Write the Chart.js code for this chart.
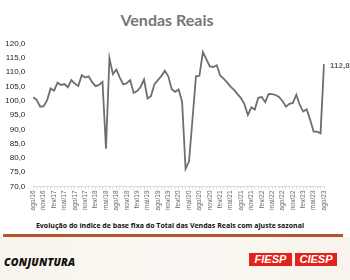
<!DOCTYPE html>
<html>
<head>
<meta charset="utf-8">
<script src="https://cdn.jsdelivr.net/npm/chart.js@4"></script>
<style>
  body { margin: 0; width: 350px; height: 280px; background: #fff; position: relative; overflow: hidden; font-family: "Liberation Sans", Arial, sans-serif; }
  #titulo { position: absolute; left: 0; width: 334px; top: 10px; text-align: center; font: bold 16px Lato, sans-serif; color: #777; }
  #grafico { position: absolute; left: 0; top: 0; width: 350px; height: 216px; }
  #subtitulo { position: absolute; left: 0; width: 340px; top: 221px; text-align: center; font: bold 7px "Open Sans", sans-serif; color: #111; }
  #linha { position: absolute; left: 3px; width: 340px; top: 234px; height: 3px; background: #b5562e; }
  #rodape { position: absolute; left: 0; top: 237px; width: 350px; height: 43px; background: linear-gradient(90deg, #f8f3ec, #fbf8f3 50%, #f8f3ec); }
  #conj { position: absolute; left: 4px; top: 255px; font: italic 900 10.5px "Open Sans", sans-serif; color: #111; letter-spacing: 0.2px; }
  .logo { position: absolute; top: 253px; height: 13px; background: #e3231b; color: #fff; font: italic bold 11px "Liberation Sans", Arial, sans-serif; line-height: 13px; text-align: center; }
</style>
</head>
<body>
<div id="titulo">Vendas Reais</div>
<canvas id="grafico" width="350" height="216"></canvas>
<div id="subtitulo">Evolução do índice de base fixa do Total das Vendas Reais com ajuste sazonal</div>
<div id="linha"></div>
<div id="rodape"></div>
<div id="conj">CONJUNTURA</div>
<div class="logo" style="left:249px;width:43px;">FIESP</div>
<div class="logo" style="left:295px;width:42px;">CIESP</div>
<script>
// Meses (ago/16 ate ago/23)
let nomesMeses = ["jan", "fev", "mar", "abr", "mai", "jun", "jul", "ago", "set", "out", "nov", "dez"];
let meses = [];
for (let i = 0; i < 85; i++) {
  let m = (7 + i) % 12;
  let a = 16 + Math.floor((7 + i) / 12);
  meses.push(nomesMeses[m] + "/" + a);
}

// Indice de vendas reais com ajuste sazonal
let vendas = [
  101.2, 100.2, 97.9, 98.1, 100.2, 104.3, 103.5, 106.3, 105.5, 105.8, 104.7, 107.2,
  106.0, 105.1, 108.9, 108.1, 108.5, 106.5, 105.1, 105.5, 106.6, 83.2, 114.9, 109.3,
  110.9, 108.1, 105.7, 106.1, 107.2, 102.7, 103.4, 104.8, 107.4, 100.8, 101.6, 105.8,
  107.2, 108.6, 110.5, 108.5, 104.0, 103.1, 103.9, 99.6, 76.2, 78.8, 93.5, 108.5,
  108.7, 117.0, 114.5, 112.0, 111.8, 112.4, 108.8, 107.7, 106.4, 104.9, 103.8, 102.3,
  100.9, 98.8, 95.0, 97.7, 96.9, 101.0, 101.3, 99.5, 102.4, 102.3, 102.0, 101.3,
  99.9, 97.9, 98.9, 99.2, 102.1, 98.5, 96.2, 97.0, 93.3, 89.2, 89.2, 88.6,
  112.8
];

let yMin = 70;
let yMax = 120;
let yPasso = 5;

function virgula(v, casas) {
  return v.toFixed(casas).replace(".", ",");
}

// rotulo do ultimo valor
const rotuloFinal = {
  id: "rotuloFinal",
  afterDatasetsDraw(chart) {
    let meta = chart.getDatasetMeta(0);
    let p = meta.data[meta.data.length - 1];
    let ctx = chart.ctx;
    ctx.save();
    ctx.font = "bold 8px 'Liberation Sans', Arial, sans-serif";
    ctx.fillStyle = "#666";
    ctx.textBaseline = "middle";
    ctx.fillText(virgula(vendas[vendas.length - 1], 1), p.x + 6, p.y + 2);
    ctx.restore();
  }
};

new Chart("grafico", {
  type: "line",
  data: {
    labels: meses,
    datasets: [{
      data: vendas,
      borderColor: "#6e6e6e",
      borderWidth: 1.8,
      pointRadius: 0,
      tension: 0,
      fill: false
    }]
  },
  options: {
    responsive: false,
    animation: false,
    layout: { padding: { top: 43.5, right: 26, left: 0, bottom: 0 } },
    plugins: { legend: { display: false }, tooltip: { enabled: false } },
    scales: {
      x: {
        offset: false,
        grid: { drawOnChartArea: false, color: "#e2e2e2", tickLength: 3 },
        border: { color: "#dadada" },
        afterFit(s) { s.height = 216 - 186.5; },
        ticks: {
          autoSkip: false,
          maxRotation: 90,
          minRotation: 90,
          padding: 1,
          color: "#666",
          font: { size: 6.5, family: "'Liberation Sans', Arial, sans-serif" },
          callback(v, i) { return i % 3 === 0 ? meses[i] : ""; }
        }
      },
      y: {
        min: yMin,
        max: yMax,
        grid: { display: false, drawTicks: false },
        border: { display: false },
        afterFit(s) { s.width = 33.3; },
        ticks: {
          stepSize: yPasso,
          padding: 8,
          color: "#222",
          font: { size: 8, family: "'Liberation Sans', Arial, sans-serif" },
          callback(v) { return virgula(v, 1); }
        }
      }
    }
  },
  plugins: [rotuloFinal]
});
</script>
</body>
</html>
